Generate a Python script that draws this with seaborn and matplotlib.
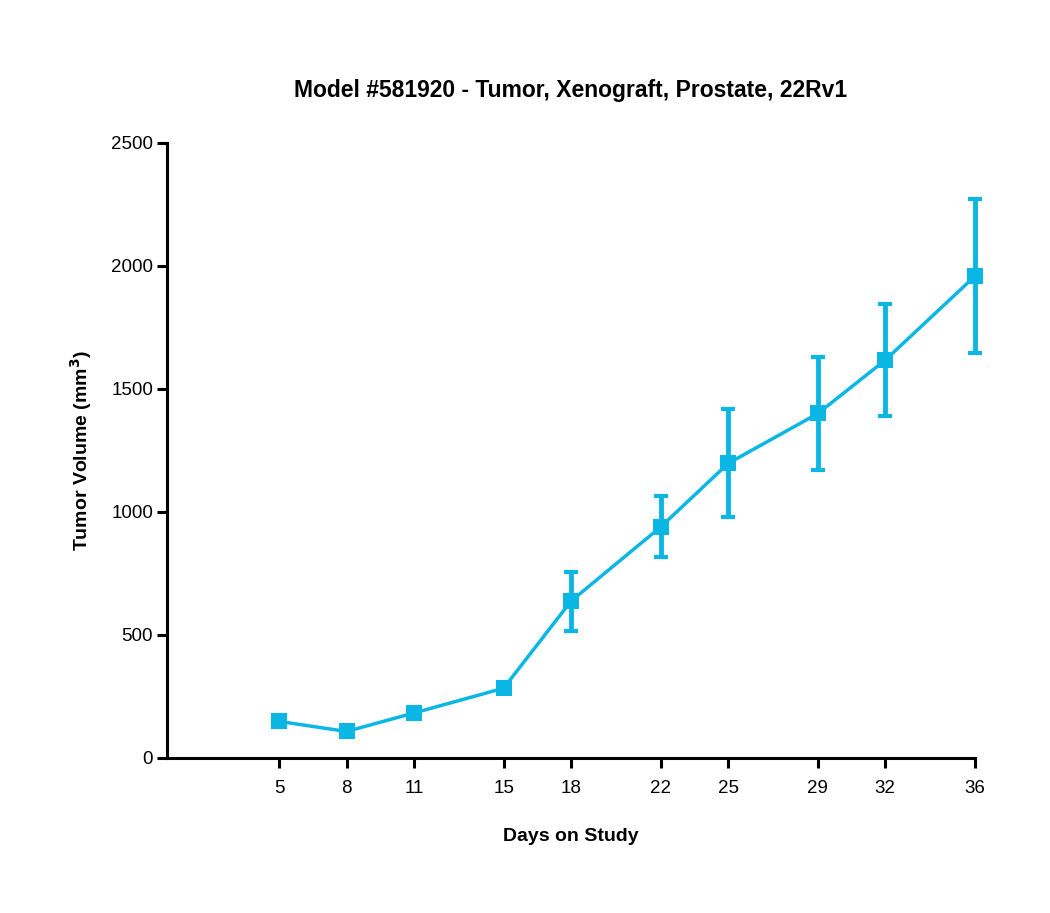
import numpy as np
import pandas as pd
import matplotlib
matplotlib.use("Agg")
import matplotlib.pyplot as plt
import seaborn as sns

# Data
days = [5, 8, 11, 15, 18, 22, 25, 29, 32, 36]
volume = [148, 107, 182, 283, 637, 939, 1197, 1400, 1617, 1959]
err_upper = [0, 0, 0, 0, 120, 125, 220, 228, 228, 313]
err_lower = [0, 0, 0, 0, 120, 122, 217, 229, 228, 313]

sns.set_style("ticks")
plt.rcParams['font.family'] = ['Liberation Sans', 'DejaVu Sans']
plt.rcParams['text.color'] = 'black'
plt.rcParams['axes.labelcolor'] = 'black'
plt.rcParams['xtick.color'] = 'black'
plt.rcParams['ytick.color'] = 'black'
plt.rcParams['axes.edgecolor'] = 'black'

color = '#0AB6E3'
data = pd.DataFrame({'day': days, 'volume': volume})

fig = plt.figure(figsize=(10.5, 9.13), dpi=100)
ax = fig.add_axes([0.159, 0.17, 0.7696, 0.6734])

ax.errorbar(days, volume, yerr=[err_lower, err_upper], fmt='none',
            ecolor=color, elinewidth=3.5, capsize=5, capthick=3, zorder=2,
            clip_on=False)
sns.lineplot(x='day', y='volume', data=data, ax=ax, color=color, linewidth=2.5,
             marker='s', markersize=11, markeredgewidth=0, zorder=3,
             clip_on=False)

ax.set_xlim(0, 36)
ax.set_ylim(0, 2500)
ax.set_xticks(days)
ax.set_yticks([0, 500, 1000, 1500, 2000, 2500])
ax.tick_params(axis='both', labelsize=13.5, width=2.2, length=7, direction='out')
ax.tick_params(axis='x', pad=9)
ax.tick_params(axis='y', pad=3)

for side in ['top', 'right']:
    ax.spines[side].set_visible(False)
for side in ['left', 'bottom']:
    ax.spines[side].set_linewidth(2.2)

ax.set_xlabel("Days on Study", fontsize=14, fontweight='bold', labelpad=22)
ax.set_ylabel("Tumor Volume (mm$^\\mathbf{3}$)", fontsize=14, fontweight='bold', labelpad=12)
ax.set_title("Model #581920 - Tumor, Xenograft, Prostate, 22Rv1",
             fontsize=16.5, fontweight='bold', pad=33)

fig.savefig("out.png", dpi=100)
